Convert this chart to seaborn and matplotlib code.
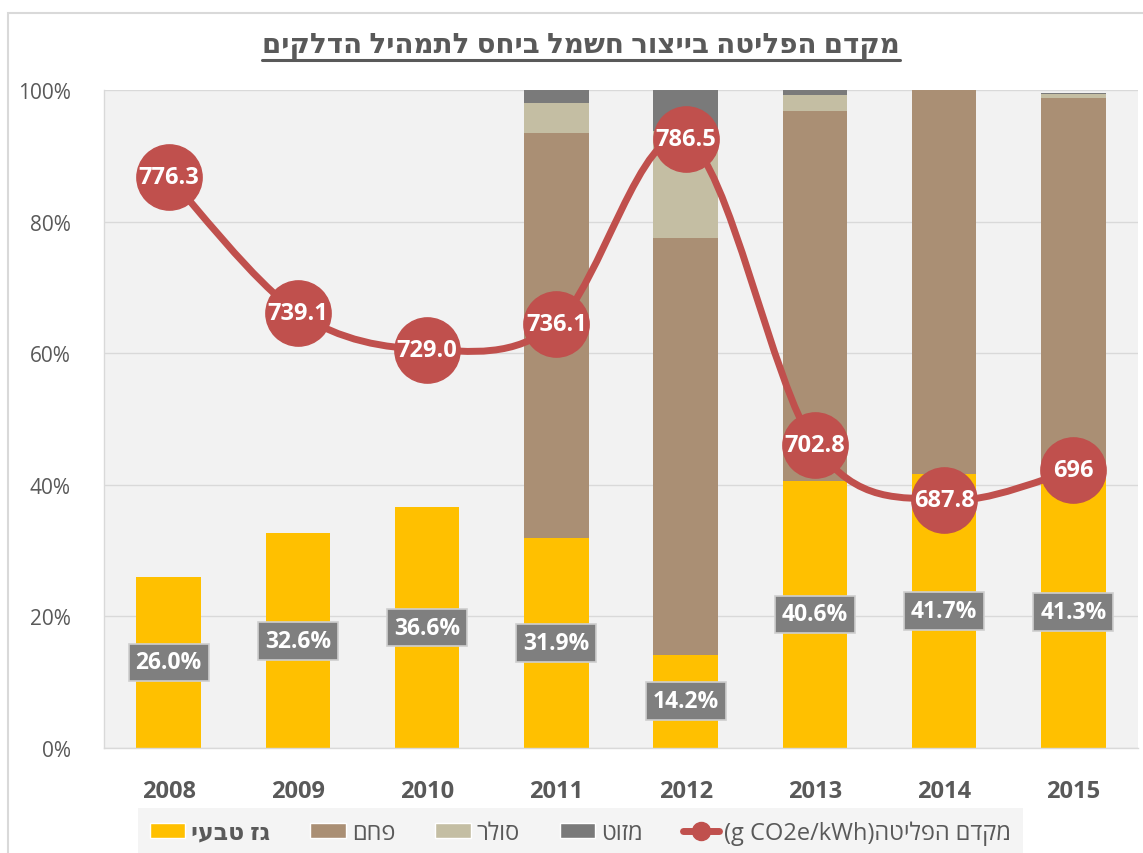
import numpy as np
import matplotlib
matplotlib.use("Agg")
import matplotlib.pyplot as plt
import seaborn as sns
from matplotlib.path import Path
from matplotlib.patches import PathPatch, Patch, Rectangle
from matplotlib.lines import Line2D

# ---- data ----
years = ["2008", "2009", "2010", "2011", "2012", "2013", "2014", "2015"]
gas = [26.0, 32.6, 36.6, 31.9, 14.2, 40.6, 41.7, 41.3]
coal = [0.0, 0.0, 0.0, 61.6, 63.3, 56.2, 58.3, 57.5]
solar = [0.0, 0.0, 0.0, 4.5, 16.3, 2.5, 0.0, 0.6]
mazut = [0.0, 0.0, 0.0, 2.0, 6.2, 0.7, 0.0, 0.2]
emission = [776.3, 739.1, 729.0, 736.1, 786.5, 702.8, 687.8, 696.0]
emission_labels = ["776.3", "739.1", "729.0", "736.1", "786.5", "702.8", "687.8", "696"]

title = "מקדם הפליטה בייצור חשמל ביחס לתמהיל הדלקים"
names = ["גז טבעי", "פחם", "סולר", "מזוט"]
line_name = "מקדם הפליטה"
line_unit = "(g CO2e/kWh)"


def rtl(s):
    # matplotlib has no bidi support: put Hebrew text in visual order
    return s[::-1]


C_GAS, C_COAL, C_SOLAR, C_MAZUT = "#FFC000", "#AA8F74", "#C4BEA3", "#7A7A7A"
C_LINE = "#C0504D"
C_TEXT = "#595959"
FONTS = ["Open Sans", "DejaVu Sans"]

sns.set_theme(style="white")
plt.rcParams["font.family"] = FONTS

fig = plt.figure(figsize=(11.43, 8.54), dpi=100)
ax = fig.add_axes([104 / 1143, 105 / 854, 1034 / 1143, 658 / 854])
ax.set_facecolor("#F2F2F2")

gas_a = np.array(gas)
coal_a = np.array(coal)
solar_a = np.array(solar)
mazut_a = np.array(mazut)

sns.barplot(x=years, y=gas, color=C_GAS, width=0.5, saturation=1, errorbar=None,
            ax=ax, zorder=2, linewidth=0)
sns.barplot(x=years, y=coal, bottom=gas_a, color=C_COAL, width=0.5, saturation=1,
            errorbar=None, ax=ax, zorder=2, linewidth=0)
sns.barplot(x=years, y=solar, bottom=gas_a + coal_a, color=C_SOLAR, width=0.5,
            saturation=1, errorbar=None, ax=ax, zorder=2, linewidth=0)
sns.barplot(x=years, y=mazut, bottom=gas_a + coal_a + solar_a, color=C_MAZUT,
            width=0.5, saturation=1, errorbar=None, ax=ax, zorder=2, linewidth=0)

ax.set_ylim(0, 100)
ax.set_xlim(-0.5, len(years) - 0.5)
ax.set_yticks(np.arange(0, 101, 20))
ax.set_yticklabels([f"{t}%" for t in range(0, 101, 20)], fontsize=15, color=C_TEXT)
ax.set_xticks(range(len(years)))
ax.set_xticklabels(years, fontsize=17, fontweight="bold", color=C_TEXT)
ax.tick_params(axis="both", length=0)
ax.tick_params(axis="x", pad=22)
ax.tick_params(axis="y", pad=24)
ax.set_xlabel("")
ax.set_ylabel("")
ax.yaxis.grid(True, color="#D9D9D9", lw=1)
ax.set_axisbelow(True)
for side in ["top", "right"]:
    ax.spines[side].set_visible(False)
for side in ["left", "bottom"]:
    ax.spines[side].set_color("#D9D9D9")
    ax.spines[side].set_linewidth(1)

# gas share labels
for i, v in enumerate(gas):
    ax.text(i, v / 2, f"{v:.1f}%", ha="center", va="center", fontsize=16.5,
            fontweight="bold", color="white", zorder=5,
            bbox=dict(boxstyle="square,pad=0.3", fc="#7F7F7F", ec="#CFCFCF", lw=1.2))

# emission factor on a hidden secondary axis
ax2 = ax.twinx()
ax2.set_ylim(620, 800)
ax2.axis("off")

xs = np.arange(len(emission), dtype=float)
ys = np.array(emission)
pts = np.column_stack([xs, ys])
verts = [pts[0]]
codes = [Path.MOVETO]
for i in range(len(pts) - 1):
    p0 = pts[max(i - 1, 0)]
    p1 = pts[i]
    p2 = pts[i + 1]
    p3 = pts[min(i + 2, len(pts) - 1)]
    verts += [p1 + (p2 - p0) / 6, p2 - (p3 - p1) / 6, p2]
    codes += [Path.CURVE4] * 3
ax2.add_patch(PathPatch(Path(verts, codes), fc="none", ec=C_LINE, lw=5,
                        capstyle="round", zorder=3))
ax2.plot(xs, ys, "o", ms=47, color=C_LINE, mec=C_LINE, zorder=4)
for x, y, lab in zip(xs, ys, emission_labels):
    ax2.text(x, y, lab, ha="center", va="center", fontsize=17, fontweight="bold",
             color="white", zorder=6)

# title with underline
t = fig.text(0.508, 1 - 45 / 854, rtl(title), ha="center", va="center",
             fontsize=20, fontweight="bold", color=C_TEXT)
fig.canvas.draw()
bb = t.get_window_extent(fig.canvas.get_renderer())
uy = 1 - 61 / 854
fig.add_artist(Line2D([bb.x0 / fig.bbox.width, bb.x1 / fig.bbox.width], [uy, uy],
                      color=C_TEXT, lw=2.2, transform=fig.transFigure))

# outer chart border
fig.add_artist(Rectangle((8 / 1143, -0.1), 1.2, 0.1 + 1 - 14 / 854,
                         transform=fig.transFigure, fc="none", ec="#D9D9D9", lw=1.5))

# legend
handles = [Patch(fc=C_GAS), Patch(fc=C_COAL), Patch(fc=C_SOLAR), Patch(fc=C_MAZUT),
           Line2D([], [], color=C_LINE, lw=5, marker="o", ms=13)]
labels = [rtl(n) for n in names] + [line_unit + rtl(line_name)]
leg = fig.legend(handles, labels, loc="center", bbox_to_anchor=(0.508, 0.024),
                 ncol=5, frameon=True, fancybox=False, fontsize=17,
                 handlelength=1.5, handleheight=0.6, handletextpad=0.25,
                 columnspacing=1.7, borderpad=0.5)
leg.get_frame().set_facecolor("#F2F2F2")
leg.get_frame().set_edgecolor("none")
for i, txt in enumerate(leg.get_texts()):
    txt.set_color(C_TEXT)
    if i == 0:
        txt.set_fontweight("bold")

fig.savefig("out.png", dpi=100)
